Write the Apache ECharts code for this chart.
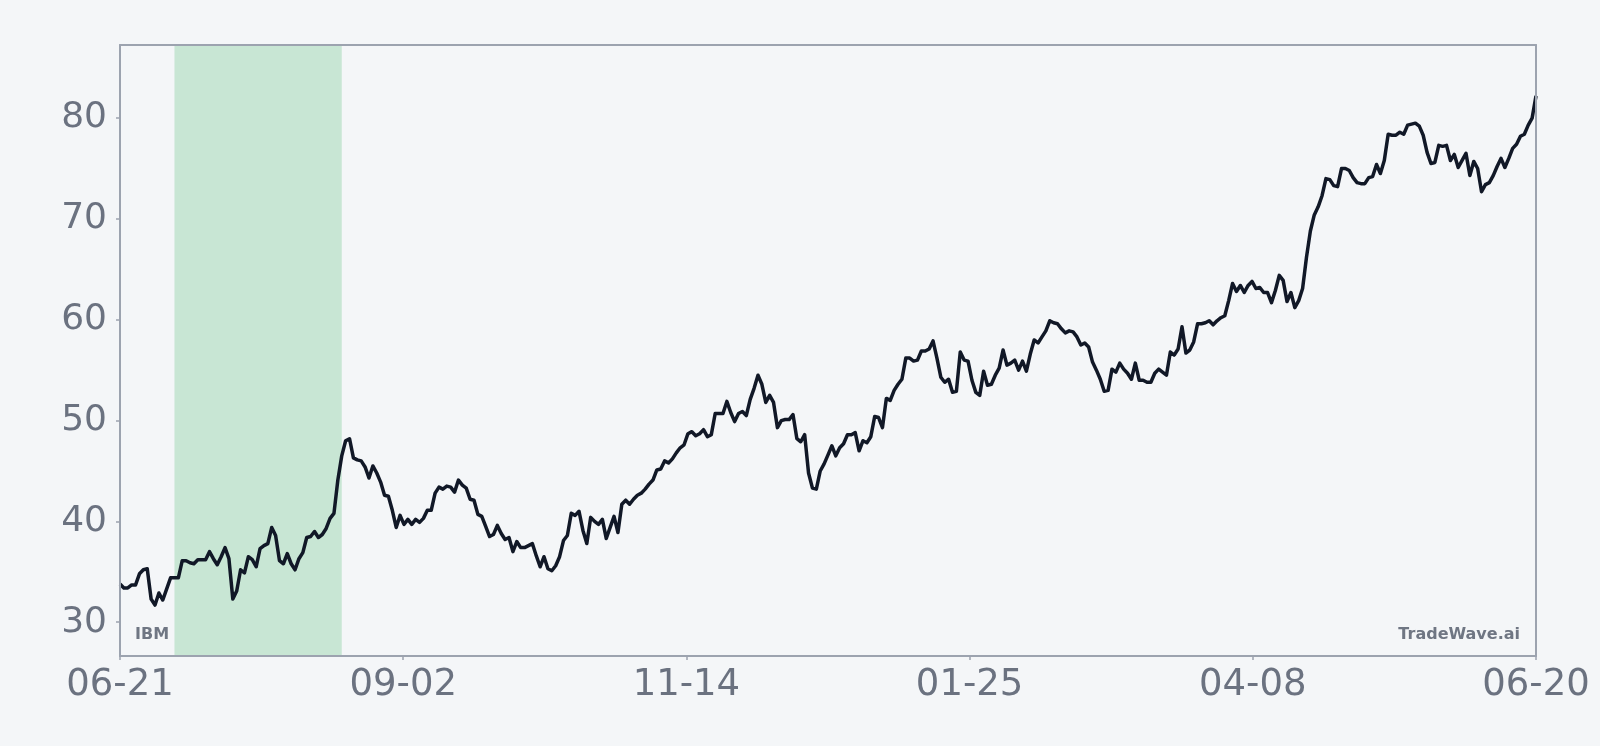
<!DOCTYPE html>
<html>
<head>
<meta charset="utf-8">
<script src="https://cdn.jsdelivr.net/npm/echarts@6.0.0/dist/echarts.min.js"></script>
<style>
  html, body { margin: 0; padding: 0; background: #f4f6f8; }
  #chart { width: 1600px; height: 746px; }
</style>
</head>
<body>
<div id="chart"></div>
<script>
// daily closes, day 0 = 06-21, day 364 = 06-20
const prices = [
  33.8, 33.4, 33.4, 33.7, 33.7, 34.8, 35.2, 35.3, 32.3, 31.7,
  32.9, 32.2, 33.3, 34.4, 34.4, 34.4, 36.1, 36.1, 35.9, 35.8,
  36.2, 36.2, 36.2, 37.0, 36.3, 35.7, 36.5, 37.4, 36.3, 32.3,
  33.1, 35.2, 34.9, 36.5, 36.2, 35.5, 37.3, 37.6, 37.8, 39.4,
  38.6, 36.1, 35.8, 36.8, 35.8, 35.2, 36.3, 36.9, 38.4, 38.5,
  39.0, 38.4, 38.7, 39.3, 40.3, 40.8, 44.1, 46.5, 48.0, 48.2,
  46.3, 46.1, 46.0, 45.4, 44.3, 45.5, 44.8, 43.9, 42.6, 42.5,
  41.1, 39.4, 40.6, 39.7, 40.2, 39.7, 40.2, 39.9, 40.3, 41.1,
  41.1, 42.8, 43.4, 43.2, 43.5, 43.4, 42.9, 44.1, 43.6, 43.3,
  42.2, 42.1, 40.7, 40.5, 39.5, 38.5, 38.7, 39.6, 38.8, 38.2,
  38.4, 37.0, 38.0, 37.4, 37.4, 37.6, 37.8, 36.6, 35.5, 36.5,
  35.3, 35.1, 35.6, 36.5, 38.1, 38.6, 40.8, 40.6, 41.0, 39.1,
  37.8, 40.4, 40.0, 39.7, 40.2, 38.3, 39.4, 40.5, 38.9, 41.7,
  42.1, 41.7, 42.2, 42.6, 42.8, 43.2, 43.7, 44.1, 45.1, 45.2,
  46.0, 45.8, 46.2, 46.8, 47.3, 47.6, 48.7, 48.9, 48.5, 48.7,
  49.1, 48.4, 48.6, 50.7, 50.7, 50.7, 51.9, 50.8, 49.9, 50.7,
  50.9, 50.5, 52.1, 53.2, 54.5, 53.6, 51.8, 52.5, 51.8, 49.3,
  50.0, 50.1, 50.1, 50.6, 48.2, 47.9, 48.6, 44.8, 43.3, 43.2,
  45.0, 45.7, 46.6, 47.5, 46.5, 47.3, 47.7, 48.6, 48.6, 48.8,
  47.0, 48.0, 47.8, 48.4, 50.4, 50.3, 49.3, 52.2, 52.0, 53.0,
  53.6, 54.1, 56.2, 56.2, 55.9, 56.0, 56.9, 56.9, 57.1, 57.9,
  56.2, 54.3, 53.8, 54.1, 52.8, 52.9, 56.8, 56.0, 55.9, 54.0,
  52.8, 52.5, 54.9, 53.5, 53.6, 54.5, 55.2, 57.0, 55.5, 55.7,
  56.0, 55.0, 55.9, 54.9, 56.6, 58.0, 57.7, 58.3, 58.9, 59.9,
  59.7, 59.6, 59.1, 58.7, 58.9, 58.8, 58.3, 57.5, 57.7, 57.3,
  55.8, 55.0, 54.1, 52.9, 53.0, 55.1, 54.8, 55.7, 55.1, 54.7,
  54.1, 55.7, 54.0, 54.0, 53.8, 53.8, 54.7, 55.1, 54.8, 54.5,
  56.8, 56.5, 57.1, 59.3, 56.7, 57.0, 57.8, 59.6, 59.6, 59.7,
  59.9, 59.5, 59.9, 60.2, 60.4, 61.9, 63.6, 62.8, 63.4, 62.7,
  63.4, 63.8, 63.1, 63.2, 62.7, 62.7, 61.7, 62.9, 64.4, 63.9,
  61.8, 62.7, 61.2, 61.9, 63.1, 66.2, 68.8, 70.4, 71.2, 72.3,
  74.0, 73.9, 73.3, 73.2, 75.0, 75.0, 74.8, 74.1, 73.6, 73.5,
  73.5, 74.1, 74.2, 75.4, 74.5, 75.8, 78.4, 78.3, 78.3, 78.6,
  78.4, 79.3, 79.4, 79.5, 79.2, 78.3, 76.6, 75.5, 75.6, 77.3,
  77.2, 77.3, 75.8, 76.4, 75.1, 75.8, 76.5, 74.3, 75.7, 75.0,
  72.7, 73.4, 73.6, 74.3, 75.2, 76.0, 75.1, 76.0, 77.0, 77.4,
  78.2, 78.4, 79.3, 80.0, 82.2
];

const tickLabels = ['06-21', '09-02', '11-14', '01-25', '04-08', '06-20'];

// highlighted window (in days from start)
const shadeFrom = 14;
const shadeTo = 57;

const ticker = 'IBM';
const brand = 'TradeWave.ai';

const lastDay = prices.length - 1;
const step = lastDay / (tickLabels.length - 1);

// 10% margin around the data range, like the original plot
const lo = Math.min(...prices);
const hi = Math.max(...prices);
const yMin = lo - (hi - lo) * 0.1;
const yMax = hi + (hi - lo) * 0.1;

const grey = '#6b7280';
const frame = '#9ca3af';
const font = 'DejaVu Sans';

const chart = echarts.init(document.getElementById('chart'));

const frameLine = { show: true, onZero: false, lineStyle: { color: frame, width: 2 } };
const markText = { fontFamily: font, fontSize: 16, fontWeight: 'bold', color: '#6f7683' };

chart.setOption({
  animation: false,
  backgroundColor: '#f4f6f8',
  grid: { left: 120, right: 64, top: 45, bottom: 90 },
  title: [
    { text: ticker, left: 135, top: 627, padding: 0, textStyle: markText },
    { text: brand, right: 80, top: 627, padding: 0, textStyle: markText }
  ],
  xAxis: [
    {
      type: 'value', min: 0, max: lastDay, interval: step, z: 5,
      axisLine: frameLine,
      axisTick: { show: true, length: 4, lineStyle: { color: frame, width: 1.5 } },
      splitLine: { show: false },
      axisLabel: {
        margin: 11, fontFamily: font, fontSize: 37, color: grey,
        formatter: v => tickLabels[Math.round(v / step)]
      }
    },
    {
      type: 'value', position: 'top', min: 0, max: lastDay, z: 5,
      axisLine: frameLine, axisTick: { show: false },
      axisLabel: { show: false }, splitLine: { show: false }
    }
  ],
  yAxis: [
    {
      type: 'value', min: yMin, max: yMax, minInterval: 10, maxInterval: 10, z: 5,
      axisLine: frameLine,
      axisTick: { show: true, length: 4, lineStyle: { color: frame, width: 1.5 } },
      splitLine: { show: false },
      axisLabel: {
        margin: 13, fontFamily: font, fontSize: 36, color: grey,
        showMinLabel: false, showMaxLabel: false
      }
    },
    {
      type: 'value', position: 'right', min: yMin, max: yMax, z: 5,
      axisLine: frameLine, axisTick: { show: false },
      axisLabel: { show: false }, splitLine: { show: false }
    }
  ],
  series: [{
    type: 'line',
    data: prices.map((p, i) => [i, p]),
    showSymbol: false,
    lineStyle: { color: '#111827', width: 3.5, join: 'round' },
    markArea: {
      silent: true,
      itemStyle: { color: '#c8e6d4' },
      data: [[{ xAxis: shadeFrom }, { xAxis: shadeTo }]]
    }
  }]
});
</script>
</body>
</html>
